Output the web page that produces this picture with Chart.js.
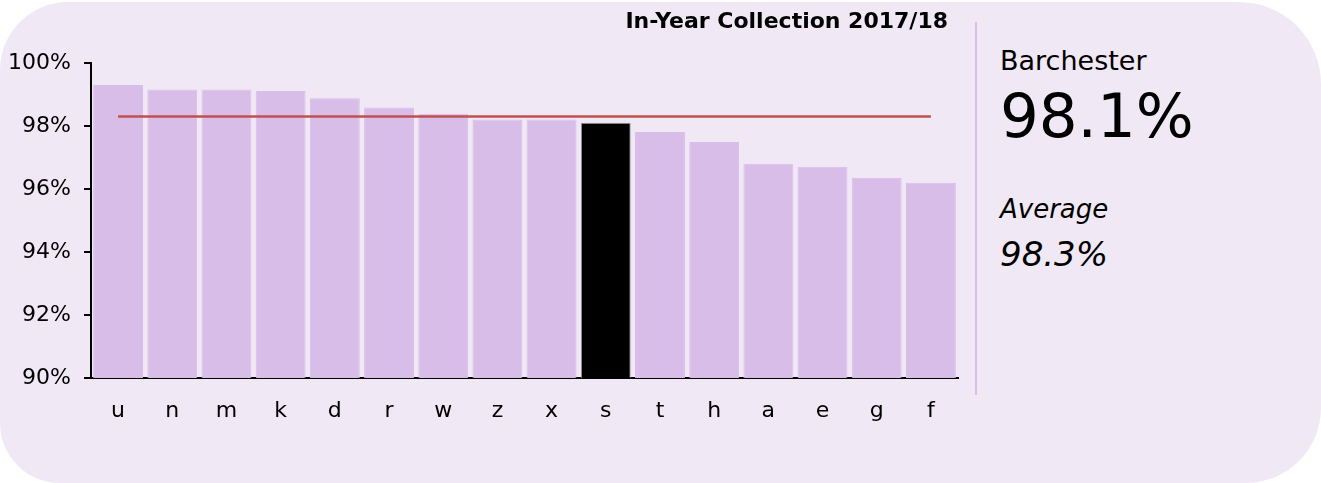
<!DOCTYPE html>
<html>
<head>
<meta charset="utf-8">
<script src="https://cdn.jsdelivr.net/npm/chart.js@4/dist/chart.umd.min.js"></script>
<style>
  html, body { margin: 0; padding: 0; background: #fff; }
  body { width: 1321px; height: 483px; position: relative; overflow: hidden; font-family: 'DejaVu Sans', Verdana, sans-serif; color: #000; }
  .card { position: absolute; left: 0; top: 2px; width: 1321px; height: 481px; background: #f1e8f6; border-radius: 68px 82px 75px 60px; }
  .chart-box { position: absolute; left: 0; top: 0; width: 965px; height: 440px; }
  .title { position: absolute; left: 0; top: 8px; width: 948px; text-align: right; font-weight: bold; font-size: 22px; line-height: 26px; }
  .divider { position: absolute; left: 975px; top: 22px; width: 2px; height: 373px; background: #d8bee8; }
  .txt { position: absolute; left: 1000px; line-height: 1; white-space: nowrap; }
</style>
</head>
<body>
<div class="card"></div>
<div class="chart-box"><canvas id="canvas-1"></canvas></div>
<div class="title">In-Year Collection 2017/18</div>
<div class="divider"></div>
<div class="txt" style="top:47px;font-size:27px;">Barchester</div>
<div class="txt" style="top:85px;font-size:61px;">98.1%</div>
<div class="txt" style="top:196px;font-size:26px;font-style:italic;">Average</div>
<div class="txt" style="top:237px;font-size:34px;font-style:italic;">98.3%</div>
<script>
// chart data
var categories = ['u', 'n', 'm', 'k', 'd', 'r', 'w', 'z', 'x', 's', 't', 'h', 'a', 'e', 'g', 'f'];
var collectionRates = [99.3, 99.16, 99.16, 99.11, 98.88, 98.59, 98.39, 98.21, 98.21, 98.1, 97.81, 97.49, 96.8, 96.71, 96.36, 96.2];
var averageRate = 98.3;
var highlighted = 's';
var yTicks = [90, 92, 94, 96, 98, 100];

var barFill = '#d9bde9';
var averageLine = categories.map(function () { return averageRate; });
var barColours = categories.map(function (c) { return c === highlighted ? '#000000' : barFill; });
var barBorders = categories.map(function (c) { return c === highlighted ? '#9a9a9a' : barFill; });

Chart.defaults.font.family = "'DejaVu Sans', Verdana, sans-serif";
Chart.defaults.color = '#000';

var collectionChart = new Chart(document.getElementById('canvas-1'), {
  type: 'bar',
  data: {
    labels: categories,
    datasets: [{
      type: 'line',
      label: 'Average',
      data: averageLine,
      borderColor: '#c0504d',
      borderWidth: 2.5,
      pointRadius: 0,
      fill: false,
      order: 0
    }, {
      label: 'In-Year Collection',
      data: collectionRates,
      backgroundColor: barColours,
      borderColor: barBorders,
      borderWidth: 1,
      barPercentage: 0.92,
      categoryPercentage: 1,
      order: 1
    }]
  },
  options: {
    responsive: true,
    maintainAspectRatio: false,
    animation: false,
    layout: { padding: { top: 63, right: 7, left: 0, bottom: 0 } },
    plugins: {
      legend: { display: false },
      tooltip: { enabled: false },
      title: { display: false }
    },
    scales: {
      x: {
        grid: { display: false, drawTicks: false },
        border: { display: true, color: '#000', width: 2 },
        ticks: { font: { size: 22 }, padding: 20, color: '#000' },
        afterFit: function (scale) { scale.height = 62; }
      },
      y: {
        min: 90,
        max: 100,
        afterBuildTicks: function (scale) {
          scale.ticks = yTicks.map(function (v) { return { value: v }; });
        },
        grid: { drawOnChartArea: false, drawTicks: true, tickLength: 7, color: '#000', lineWidth: 2 },
        border: { display: true, color: '#000', width: 2 },
        ticks: {
          font: { size: 22 },
          padding: 13,
          color: '#000',
          callback: function (v) { return v + '%'; }
        },
        afterFit: function (scale) { scale.width = 91; }
      }
    }
  }
});
</script>
</body>
</html>
